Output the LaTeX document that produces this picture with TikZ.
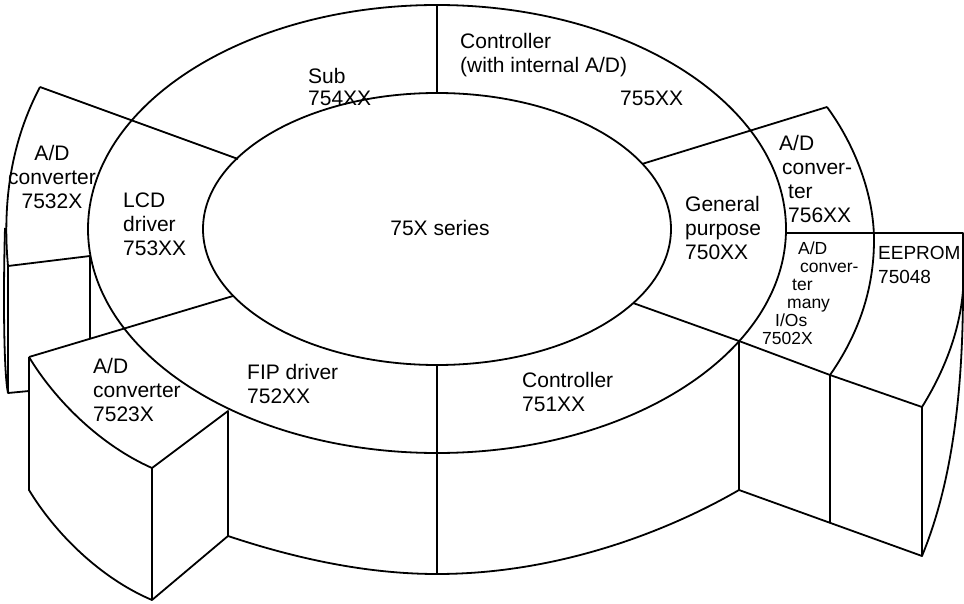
\documentclass[tikz,border=0pt]{standalone}
\usepackage{fontspec}
\setmainfont{Liberation Sans}

\begin{document}
\begin{tikzpicture}[x=1pt, y=-1pt,
  borde/.style={line width=1.8pt, line join=round},
  etiq/.style={font=\fontsize{21}{24}\selectfont, align=left, inner sep=0pt, anchor=west},
  chica/.style={font=\fontsize{17.5}{18}\selectfont, align=left, inner sep=0pt, anchor=west}
]
  \useasboundingbox (0,0) rectangle (964,604);

  % esquinas del anillo
  \coordinate (c) at (437,229);
  \coordinate (ir) at (437,94);   \coordinate (or) at (437,5);
  \coordinate (ib) at (437,365);  \coordinate (ob) at (437,453);
  \coordinate (i1) at (642,164);  \coordinate (i2) at (633,303);
  \coordinate (i3) at (233,296);  \coordinate (i4) at (238,159);
  % esquinas de los bloques
  \coordinate (a1) at (40,87);    \coordinate (a2) at (8,266);
  \coordinate (a3) at (90,256);   \coordinate (a4) at (8,393);
  \coordinate (b1) at (29,357);   \coordinate (b2) at (152,468);
  \coordinate (b3) at (228,411);  \coordinate (b4) at (29,490);
  \coordinate (b5) at (152,600);  \coordinate (b6) at (228,536);
  \coordinate (d1) at (827,107);  \coordinate (d2) at (739,341);
  \coordinate (d3) at (830,375);  \coordinate (d4) at (922,407);
  \coordinate (d5) at (739,490);  \coordinate (d6) at (830,523);
  \coordinate (d7) at (922,556);
  \coordinate (e1) at (785,233);  \coordinate (e2) at (963,233);
  \coordinate (e3) at (963,290);

  % anillo
  \draw[borde] (c) ellipse [x radius=349, y radius=224];
  \draw[borde] (c) ellipse [x radius=234, y radius=136];
  \draw[borde] (or) -- (ir) (ib) -- (437,574);
  \draw[borde] (i1) -- (d1) (i4) -- (a1) (i3) -- (b1);
  \draw[borde] (i2) -- (d2) -- (d3) -- (d4);
  \draw[borde] (b6) .. controls (300,560) and (370,574) .. (437,574)
    .. controls (560,574) and (670,530) .. (d5);

  % bloque izquierdo de arriba
  \draw[borde] (a1) .. controls (12,140) and (2,200) .. (a2) -- (a3) -- (90,339);
  \draw[borde] (5,228) .. controls (3,300) and (4,375) .. (a4) -- (29,391);
  \draw[borde] (a2) -- (a4);

  % bloque izquierdo de abajo
  \draw[borde] (b1) .. controls (55,400) and (100,445) .. (b2) -- (b3) -- (b6) -- (b5) -- (b2);
  \draw[borde] (b1) -- (b4) .. controls (55,533) and (100,578) .. (b5);

  % bloques de la derecha
  \draw[borde] (d1) .. controls (855,145) and (874,195) .. (874,240)
    .. controls (874,290) and (858,335) .. (d3);
  \draw[borde] (e1) -- (e2) -- (e3) .. controls (960,330) and (945,370) .. (d4);
  \draw[borde] (e3) .. controls (963,420) and (945,500) .. (d7);
  \draw[borde] (d2) -- (d5) -- (d7) -- (d4) (d3) -- (d6);

  % textos
  \node[etiq, font=\fontsize{21}{21.5}\selectfont] (sub) at (308,87) {Sub\\754XX};
  \node[etiq] (ctrl) at (460,55) {Controller\\(with internal A/D)};
  \node[etiq] (ctrlnum) at (620,98) {755XX};
  \node[etiq, align=center, anchor=center] (adc1) at (52,177) {A/D\\converter\\7532X};
  \node[etiq] (lcd) at (123,224) {LCD\\driver\\753XX};
  \node[etiq, anchor=center] (serie) at (440,228) {75X series};
  \node[etiq] (gen) at (685,228) {General\\purpose\\750XX};
  \node[etiq] (adc2) at (779,179) {A/D\\\hspace{3pt}conver-\\\hspace{9pt}ter\\\hspace{9pt}756XX};
  \node[chica] (adc3) at (762,293) {\hspace{36pt}A/D\\\hspace{38pt}conver-\\\hspace{30pt}ter\\\hspace{25pt}many\\\hspace{13pt}I/Os\\7502X};
  \node[etiq, font=\fontsize{19}{24}\selectfont] (eep) at (878,265) {EEPROM\\75048};
  \node[etiq] (adc4) at (93,390) {A/D\\converter\\7523X};
  \node[etiq] (fip) at (247,384) {FIP driver\\752XX};
  \node[etiq] (ctrl2) at (522,392) {Controller\\751XX};
\end{tikzpicture}
\end{document}
